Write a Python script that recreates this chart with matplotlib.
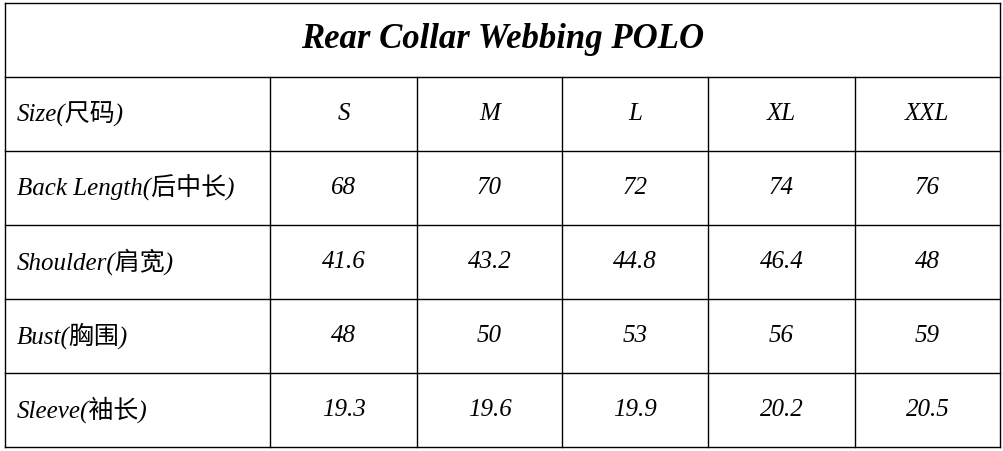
import matplotlib.pyplot as plt

title = "Rear Collar Webbing POLO"
row_labels = ["Size(尺码)", "Back Length(后中长)", "Shoulder(肩宽)", "Bust(胸围)", "Sleeve(袖长)"]
sizes = ["S", "M", "L", "XL", "XXL"]
back_length = ["68", "70", "72", "74", "76"]
shoulder = ["41.6", "43.2", "44.8", "46.4", "48"]
bust = ["48", "50", "53", "56", "59"]
sleeve = ["19.3", "19.6", "19.9", "20.2", "20.5"]
rows = [sizes, back_length, shoulder, bust, sleeve]

col_edges = [5, 270, 417, 562, 708, 855, 1000]
row_edges = [3, 77, 151, 225, 299, 373, 447]
fam = ["Liberation Serif", "Noto Sans CJK SC"]

fig = plt.figure(figsize=(10.04, 4.51), dpi=100)
ax = fig.add_axes([0, 0, 1, 1])
ax.set_xlim(0, 1004)
ax.set_ylim(451, 0)
ax.axis("off")

lw = 1.0
for y in row_edges:
    ax.plot([col_edges[0], col_edges[-1]], [y, y], color="black", lw=lw)
for i, x in enumerate(col_edges):
    y0 = row_edges[0] if i in (0, len(col_edges) - 1) else row_edges[1]
    ax.plot([x, x], [y0, row_edges[-1]], color="black", lw=lw)

ax.text((col_edges[0] + col_edges[-1]) / 2, (row_edges[0] + row_edges[1]) / 2, title,
        ha="center", va="center", fontsize=25, style="italic", weight="bold", family=fam)

for r, (lab, vals) in enumerate(zip(row_labels, rows)):
    yc = (row_edges[r + 1] + row_edges[r + 2]) / 2
    ax.text(col_edges[0] + 12, yc, lab, ha="left", va="center", fontsize=18,
            style="italic", family=fam)
    for c, v in enumerate(vals):
        xc = (col_edges[c + 1] + col_edges[c + 2]) / 2
        ax.text(xc, yc, v, ha="center", va="center", fontsize=18, style="italic", family=fam)

fig.savefig("out.png", dpi=100)
